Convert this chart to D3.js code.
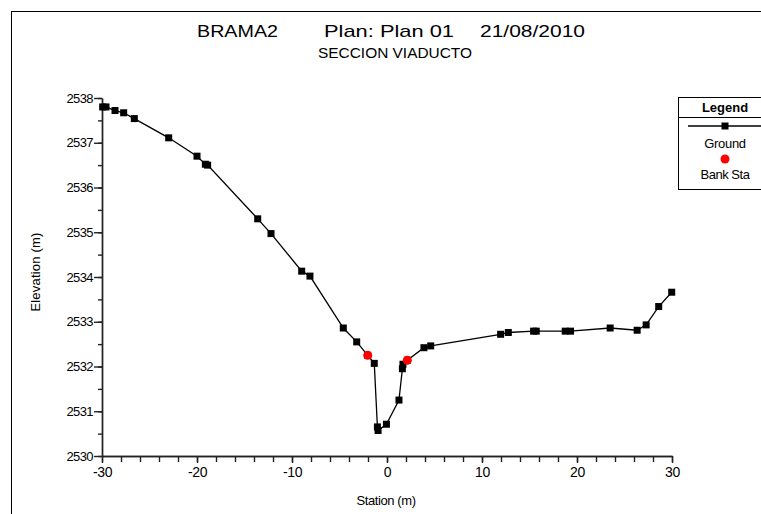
<!DOCTYPE html>
<html>
<head>
<meta charset="utf-8">
<script src="https://cdn.jsdelivr.net/npm/d3@7"></script>
<style>
  body { margin: 0; background: #fff; }
  text { font-family: "Liberation Sans", Arial, sans-serif; fill: #000; }
</style>
</head>
<body>
<div id="chart"></div>
<script>
// ground profile (station m, elevation m)
const stations = [-29.93, -29.58, -28.63, -27.72, -26.6, -22.98, -20.0, -19.12, -18.88, -13.61, -12.21,
    -8.98, -8.11, -4.6, -3.19, -2.03, -1.34, -1.01, -0.94, -0.06, 1.26, 1.62, 1.68, 2.14, 3.89, 4.6,
    11.96, 12.77, 15.43, 15.71, 18.76, 19.32, 23.49, 26.33, 27.28, 28.6, 29.97];
const elevations = [2537.80, 2537.80, 2537.72, 2537.67, 2537.54, 2537.11, 2536.70, 2536.52, 2536.50, 2535.30, 2534.97,
    2534.13, 2534.02, 2532.86, 2532.55, 2532.25, 2532.07, 2530.65, 2530.57, 2530.71, 2531.25, 2531.95, 2532.05, 2532.14, 2532.42, 2532.46,
    2532.72, 2532.76, 2532.79, 2532.79, 2532.79, 2532.79, 2532.86, 2532.81, 2532.93, 2533.34, 2533.66];
const bankStations = [-2.03, 2.14];
const bankElevations = [2532.25, 2532.14];

const xTicks = [-30, -20, -10, 0, 10, 20, 30];
const yTicks = [2530, 2531, 2532, 2533, 2534, 2535, 2536, 2537, 2538];

const width = 761, height = 514;
const plot = {left: 102, right: 672, top: 98, bottom: 456};

const svg = d3.select("#chart").append("svg")
    .attr("width", width)
    .attr("height", height);

svg.append("rect").attr("width", width).attr("height", height).attr("fill", "#fff");

// outer frame
svg.append("rect")
    .attr("x", 11.5).attr("y", 11.5)
    .attr("width", 800).attr("height", 600)
    .attr("fill", "none").attr("stroke", "#000").attr("stroke-width", 1);

// titles
const titleY = 37;
[["BRAMA2", 197, 81], ["Plan: Plan 01", 324, 130], ["21/08/2010", 480, 105]].forEach(([t, x, w]) => {
    svg.append("text")
        .attr("x", x).attr("y", titleY)
        .attr("font-size", 17)
        .attr("textLength", w)
        .attr("lengthAdjust", "spacingAndGlyphs")
        .text(t);
});
svg.append("text")
    .attr("x", 318).attr("y", 58)
    .attr("font-size", 14)
    .attr("textLength", 154)
    .attr("lengthAdjust", "spacingAndGlyphs")
    .text("SECCION VIADUCTO");

const x = d3.scaleLinear().domain([-30, 30]).range([plot.left, plot.right]);
const y = d3.scaleLinear().domain([2530, 2538]).range([plot.bottom, plot.top]);

// minor ticks
const xMinor = d3.range(-30, 31, 2);
const yMinor = d3.range(2530, 2538.01, 0.5);

svg.append("g")
    .attr("class", "axis")
    .attr("transform", `translate(0,${plot.bottom})`)
    .call(d3.axisBottom(x).tickValues(xMinor).tickSize(6).tickSizeOuter(0).tickFormat(""));

const xAxisG = svg.append("g")
    .attr("class", "axis")
    .attr("transform", `translate(0,${plot.bottom})`)
    .call(d3.axisBottom(x).tickValues(xTicks).tickSize(7).tickSizeOuter(0).tickPadding(4)
        .tickFormat(d => String(d)));

svg.append("g")
    .attr("class", "axis")
    .attr("transform", `translate(${plot.left},0)`)
    .call(d3.axisLeft(y).tickValues(yMinor).tickSize(4).tickSizeOuter(0).tickFormat(""));

const yAxisG = svg.append("g")
    .attr("class", "axis")
    .attr("transform", `translate(${plot.left},0)`)
    .call(d3.axisLeft(y).tickValues(yTicks).tickSize(8).tickSizeOuter(0).tickPadding(1)
        .tickFormat(d => String(d)));

svg.selectAll(".axis path, .axis line")
    .attr("stroke", "#222")
    .attr("stroke-width", 1.4);
svg.selectAll(".axis text")
    .attr("font-size", 13)
    .attr("font-family", "Liberation Sans, Arial, sans-serif")
    .attr("fill", "#000");
yAxisG.selectAll("text").attr("letter-spacing", -0.6);
xAxisG.selectAll("text").attr("font-size", 14).attr("letter-spacing", -0.4);

// axis titles
svg.append("text")
    .attr("x", 386).attr("y", 505)
    .attr("text-anchor", "middle")
    .attr("font-size", 13)
    .attr("letter-spacing", -0.4)
    .text("Station (m)");

svg.append("text")
    .attr("transform", "translate(40,272) rotate(-90)")
    .attr("text-anchor", "middle")
    .attr("font-size", 13)
    .attr("letter-spacing", 0.2)
    .text("Elevation (m)");

// ground line
const ground = stations.map((s, i) => [s, elevations[i]]);
const line = d3.line().x(d => x(d[0])).y(d => y(d[1]));

svg.append("path")
    .datum(ground)
    .attr("fill", "none")
    .attr("stroke", "#000")
    .attr("stroke-width", 1.3)
    .attr("d", line);

const ms = 7;
svg.append("g").selectAll("rect")
    .data(ground)
    .join("rect")
    .attr("x", d => x(d[0]) - ms / 2)
    .attr("y", d => y(d[1]) - ms / 2)
    .attr("width", ms).attr("height", ms)
    .attr("fill", "#000");

svg.append("g").selectAll("circle")
    .data(bankStations.map((s, i) => [s, bankElevations[i]]))
    .join("circle")
    .attr("cx", d => x(d[0]))
    .attr("cy", d => y(d[1]))
    .attr("r", 4.5)
    .attr("fill", "#f00");

// legend
const lg = svg.append("g").attr("transform", "translate(678,97)");
lg.append("rect")
    .attr("x", 0.5).attr("y", 0.5)
    .attr("width", 95).attr("height", 92)
    .attr("fill", "#fff").attr("stroke", "#000");
lg.append("line")
    .attr("x1", 0).attr("x2", 96).attr("y1", 20.5).attr("y2", 20.5)
    .attr("stroke", "#000");
lg.append("text")
    .attr("x", 47).attr("y", 15)
    .attr("text-anchor", "middle")
    .attr("font-size", 13).attr("font-weight", "bold")
    .text("Legend");
lg.append("line")
    .attr("x1", 10).attr("x2", 84).attr("y1", 29).attr("y2", 29)
    .attr("stroke", "#000").attr("stroke-width", 1.3);
lg.append("rect")
    .attr("x", 47 - 3.5).attr("y", 29 - 3.5).attr("width", 7).attr("height", 7)
    .attr("fill", "#000");
lg.append("text")
    .attr("x", 47).attr("y", 51)
    .attr("text-anchor", "middle")
    .attr("font-size", 13).attr("letter-spacing", -0.3)
    .text("Ground");
lg.append("circle")
    .attr("cx", 47).attr("cy", 62).attr("r", 4.5)
    .attr("fill", "#f00");
lg.append("text")
    .attr("x", 47).attr("y", 82)
    .attr("text-anchor", "middle")
    .attr("font-size", 13).attr("letter-spacing", -0.5)
    .text("Bank Sta");
</script>
</body>
</html>
